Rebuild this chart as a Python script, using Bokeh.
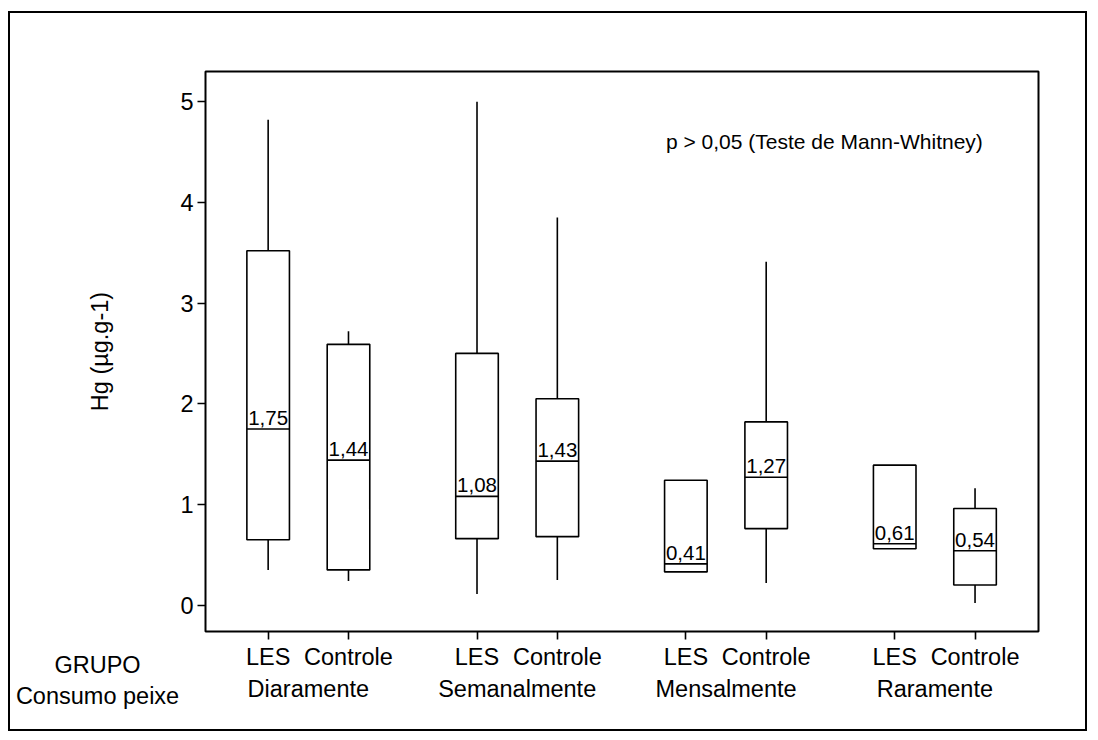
from bokeh.plotting import figure
from bokeh.models import FixedTicker, LinearAxis, Label, Range1d, ColumnDataSource
from bokeh.core.properties import value
from bokeh.embed import file_html
from bokeh.resources import INLINE

# ---- data ----
consumo = ["Diaramente", "Semanalmente", "Mensalmente", "Raramente"]
grupo = ["LES", "Controle"]
# order: LES/Controle for each consumo level
whisker_lo = [0.35, 0.24, 0.11, 0.25, 0.33, 0.22, 0.56, 0.02]
q1 = [0.65, 0.35, 0.66, 0.68, 0.33, 0.76, 0.56, 0.20]
median = [1.75, 1.44, 1.08, 1.43, 0.41, 1.27, 0.61, 0.54]
q3 = [3.52, 2.59, 2.50, 2.05, 1.24, 1.82, 1.39, 0.96]
whisker_hi = [4.82, 2.72, 5.00, 3.85, 1.24, 3.41, 1.39, 1.16]
y_ticks = [0, 1, 2, 3, 4, 5]
y_label = "Hg (µg.g-1)"
note = "p > 0,05 (Teste de Mann-Whitney)"
row1_title = "GRUPO"
row2_title = "Consumo peixe"

FONT_NAME = "Liberation Sans"
FONT = value(FONT_NAME)
AX_FS = "23.5px"
LW = 1.6

# positions (pair spacing 5, group step 13)
pos = []
for g in range(len(consumo)):
    for k in range(len(grupo)):
        pos.append(5 + 13 * g + 5 * k)
mid = [5 + 13 * g + 2.5 for g in range(len(consumo))]
half = 1.325

labels = [f"{m:.2f}".replace(".", ",") for m in median]

src = ColumnDataSource(dict(
    x=pos, left=[x - half for x in pos], right=[x + half for x in pos],
    lo=whisker_lo, q1=q1, med=median, q3=q3, hi=whisker_hi, lab=labels,
))

p = figure(width=1079, height=720,
           x_range=Range1d(1.10, 52.95), y_range=Range1d(-0.262, 5.30),
           output_backend="svg", toolbar_location=None,
           min_border_left=195, min_border_right=51,
           min_border_top=58, min_border_bottom=102,
           styles={"border": "2px solid black", "margin-left": "8px", "margin-top": "11px"})

p.background_fill_color = "white"
p.border_fill_color = "white"
p.outline_line_color = "black"
p.outline_line_width = 2
p.xgrid.visible = False
p.ygrid.visible = False

# whiskers
p.segment(x0="x", y0="q3", x1="x", y1="hi", source=src, line_color="black", line_width=LW)
p.segment(x0="x", y0="q1", x1="x", y1="lo", source=src, line_color="black", line_width=LW)
# boxes
p.quad(left="left", right="right", bottom="q1", top="q3", source=src,
       fill_color="white", line_color="black", line_width=LW)
# medians
p.segment(x0="left", y0="med", x1="right", y1="med", source=src, line_color="black", line_width=LW)
# median labels
p.text(x="x", y="med", text="lab", source=src, text_align="center", text_baseline="bottom",
       y_offset=-4, text_font=FONT, text_font_size="20.5px", text_color="black")

# y axis
ya = p.yaxis[0]
ya.ticker = FixedTicker(ticks=y_ticks)
ya.axis_label = y_label
ya.axis_label_text_font = FONT_NAME
ya.axis_label_text_font_size = AX_FS
ya.axis_label_text_font_style = "normal"
ya.axis_label_text_color = "black"
ya.axis_label_standoff = 64
ya.major_label_text_font = FONT_NAME
ya.major_label_text_font_size = AX_FS
ya.major_label_text_color = "black"
ya.major_label_standoff = 4
ya.major_tick_out = 8
ya.major_tick_in = 0
ya.minor_tick_out = 0
ya.minor_tick_in = 0
ya.axis_line_color = None
ya.major_tick_line_color = "black"
ya.major_tick_line_width = LW

# x axis row 1 : grupo
xa = p.xaxis[0]
xa.ticker = FixedTicker(ticks=pos)
xa.major_label_overrides = {x: grupo[i % 2] for i, x in enumerate(pos)}
xa.major_label_text_font = FONT_NAME
xa.major_label_text_font_size = AX_FS
xa.major_label_text_color = "black"
xa.major_label_standoff = 4
xa.major_tick_out = 8
xa.major_tick_in = 0
xa.minor_tick_out = 0
xa.minor_tick_in = 0
xa.axis_line_color = None
xa.major_tick_line_color = "black"
xa.major_tick_line_width = LW

# x axis row 2 : consumo
xa2 = LinearAxis(ticker=FixedTicker(ticks=mid),
                 major_label_overrides={m: consumo[i] for i, m in enumerate(mid)})
xa2.major_label_text_font = FONT_NAME
xa2.major_label_text_font_size = AX_FS
xa2.major_label_text_color = "black"
xa2.major_label_standoff = 3
xa2.major_tick_out = 0
xa2.major_tick_in = 0
xa2.minor_tick_out = 0
xa2.minor_tick_in = 0
xa2.axis_line_color = None
xa2.major_tick_line_color = None
p.add_layout(xa2, "below")

# row titles at left (placed in a side panel so they are not clipped to the frame)
for txt, yv in [(row1_title, -0.598), (row2_title, -0.901)]:
    p.add_layout(Label(x=-5.62, y=yv, text=txt, text_align="center", text_baseline="alphabetic",
                       text_font=FONT_NAME, text_font_size=AX_FS, text_color="black"), "above")

# note
p.add_layout(Label(x=29.76, y=4.603, text=note, text_align="left", text_baseline="alphabetic",
                   text_font=FONT_NAME, text_font_size="21px", text_color="black"))

open("out.html", "w").write(file_html(p, INLINE))
